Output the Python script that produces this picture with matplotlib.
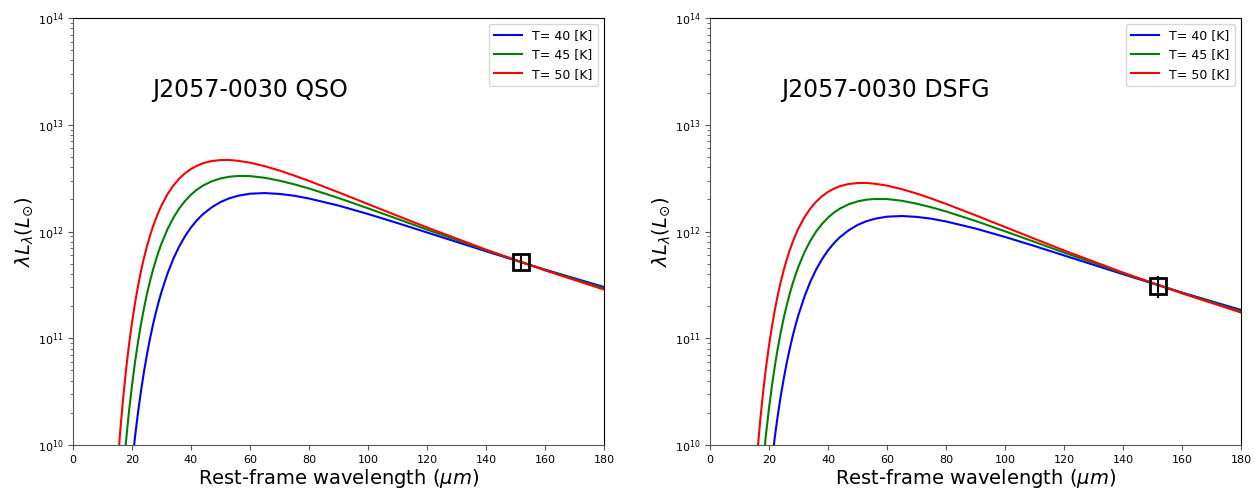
import numpy as np
import matplotlib
matplotlib.use('Agg')
import matplotlib.pyplot as plt

# rest-frame wavelength grid (micron)
lam = [14, 15, 16, 17, 18, 19, 20, 21, 22, 23, 24, 25, 26, 27, 28, 29, 30, 32, 34, 36,
       38, 40, 42, 44, 47, 50, 53, 56, 60, 65, 70, 75, 80, 90, 100, 110, 120, 140, 160, 180]

# log10(lambda L_lambda / Lsun), QSO panel
qso_T40 = [7.339, 7.914, 8.408, 8.835, 9.206, 9.531, 9.817, 10.071, 10.296, 10.497, 10.677, 10.837,
           10.983, 11.113, 11.231, 11.338, 11.435, 11.603, 11.744, 11.860, 11.957, 12.038, 12.105,
           12.161, 12.226, 12.276, 12.311, 12.335, 12.354, 12.360, 12.352, 12.335, 12.309, 12.243,
           12.164, 12.079, 11.991, 11.815, 11.643, 11.480]
qso_T45 = [8.452, 8.945, 9.366, 9.729, 10.044, 10.319, 10.559, 10.772, 10.958, 11.125, 11.273, 11.406,
           11.523, 11.629, 11.725, 11.810, 11.887, 12.020, 12.127, 12.216, 12.287, 12.345, 12.392,
           12.429, 12.470, 12.497, 12.513, 12.520, 12.519, 12.503, 12.476, 12.442, 12.403, 12.314,
           12.217, 12.118, 12.018, 11.825, 11.640, 11.467]
qso_T50 = [9.337, 9.763, 10.127, 10.440, 10.709, 10.944, 11.147, 11.326, 11.483, 11.623, 11.745, 11.854,
           11.951, 12.037, 12.114, 12.183, 12.244, 12.348, 12.430, 12.495, 12.546, 12.586, 12.616,
           12.639, 12.660, 12.669, 12.670, 12.662, 12.645, 12.612, 12.571, 12.524, 12.474, 12.367,
           12.257, 12.147, 12.038, 11.830, 11.636, 11.456]

# DSFG panel
dsfg_T40 = [7.124, 7.699, 8.193, 8.620, 8.991, 9.316, 9.602, 9.856, 10.081, 10.282, 10.462, 10.622,
            10.768, 10.898, 11.016, 11.123, 11.220, 11.388, 11.529, 11.645, 11.742, 11.823, 11.890,
            11.946, 12.011, 12.061, 12.096, 12.120, 12.139, 12.145, 12.137, 12.120, 12.094, 12.028,
            11.949, 11.864, 11.776, 11.600, 11.428, 11.265]
dsfg_T45 = [8.237, 8.730, 9.151, 9.514, 9.829, 10.104, 10.344, 10.557, 10.743, 10.910, 11.058, 11.191,
            11.308, 11.414, 11.510, 11.595, 11.672, 11.805, 11.912, 12.001, 12.072, 12.130, 12.177,
            12.214, 12.255, 12.282, 12.298, 12.305, 12.304, 12.288, 12.261, 12.227, 12.188, 12.099,
            12.002, 11.903, 11.803, 11.610, 11.425, 11.252]
dsfg_T50 = [9.122, 9.548, 9.912, 10.225, 10.494, 10.729, 10.932, 11.111, 11.268, 11.408, 11.530, 11.639,
            11.736, 11.822, 11.899, 11.968, 12.029, 12.133, 12.215, 12.280, 12.331, 12.371, 12.401,
            12.424, 12.445, 12.454, 12.455, 12.447, 12.430, 12.397, 12.356, 12.309, 12.259, 12.152,
            12.042, 11.932, 11.823, 11.615, 11.421, 11.241]

temps = [40, 45, 50]
colors = ['b', 'g', 'r']

# observed points (wavelength, L, error)
qso_obs = (152, 5.15e11, 0.8e11)
dsfg_obs = (152, 3.1e11, 0.7e11)

panels = [
    ('J2057-0030 QSO', [qso_T40, qso_T45, qso_T50], qso_obs, 0.149),
    ('J2057-0030 DSFG', [dsfg_T40, dsfg_T45, dsfg_T50], dsfg_obs, 0.135),
]

fig = plt.figure(figsize=(12.55, 4.91), dpi=100)
lefts = [73 / 1255, 710 / 1255]
ax_w = 531 / 1255
ax_b = 46 / 491
ax_h = 427 / 491

for (name, curves, obs, tx), left in zip(panels, lefts):
    ax = fig.add_axes([left, ax_b, ax_w, ax_h])
    for T, c, logL in zip(temps, colors, curves):
        ax.plot(lam, 10 ** np.array(logL), color=c, lw=1.5, label='T= %d [K]' % T)
    ax.errorbar(obs[0], obs[1], yerr=obs[2], fmt='s', mfc='none', mec='k', ecolor='k',
                ms=12, mew=2, elinewidth=1.5, zorder=5)
    ax.set_yscale('log')
    ax.set_xlim(0, 180)
    ax.set_ylim(1e10, 1e14)
    ax.set_xticks(np.arange(0, 181, 20))
    ax.tick_params(labelsize=8, colors='#555555', labelcolor='k')
    ax.tick_params(which='minor', colors='#555555')
    for s in ['left', 'bottom']:
        ax.spines[s].set_color('#555555')
    ax.set_xlabel(r'Rest-frame wavelength ($\mu m$)', fontsize=14, labelpad=2)
    ax.set_ylabel(r'$\lambda L_{\lambda} (L_{\odot})$', fontsize=14, labelpad=2)
    ax.text(tx, 0.815, name, transform=ax.transAxes, fontsize=17, va='baseline')
    ax.legend(loc='upper right', fontsize=9, handlelength=2.3)

fig.savefig('out.png', dpi=100)
